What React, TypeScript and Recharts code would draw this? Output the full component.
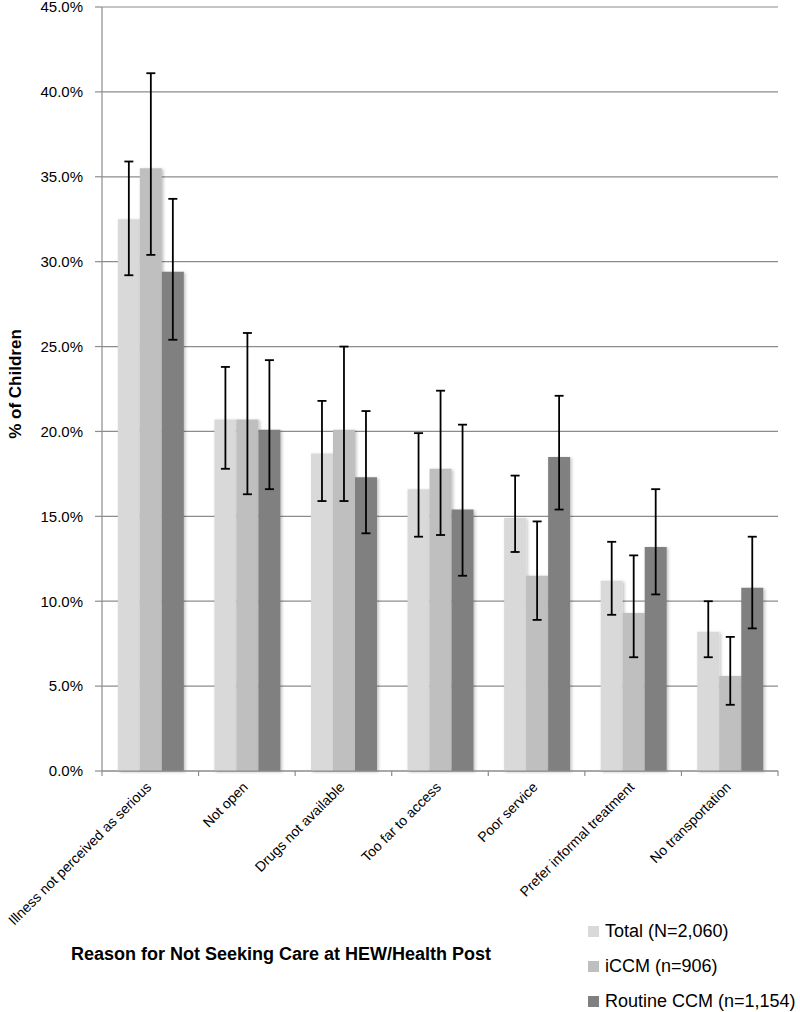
import { Bar, BarChart, CartesianGrid, ErrorBar, Label, Legend, XAxis, YAxis } from "recharts";

const reasons = [
  "Illness not perceived as serious",
  "Not open",
  "Drugs not available",
  "Too far to access",
  "Poor service",
  "Prefer informal treatment",
  "No transportation",
];

const seriesNames = ["Total (N=2,060)", "iCCM (n=906)", "Routine CCM (n=1,154)"];
const seriesColors = ["#d9d9d9", "#bfbfbf", "#808080"];

const total = [32.5, 20.7, 18.7, 16.6, 14.9, 11.2, 8.2];
const totalLow = [29.2, 17.8, 15.9, 13.8, 12.9, 9.2, 6.7];
const totalHigh = [35.9, 23.8, 21.8, 19.9, 17.4, 13.5, 10.0];

const iccm = [35.5, 20.7, 20.1, 17.8, 11.5, 9.3, 5.6];
const iccmLow = [30.4, 16.3, 15.9, 13.9, 8.9, 6.7, 3.9];
const iccmHigh = [41.1, 25.8, 25.0, 22.4, 14.7, 12.7, 7.9];

const routine = [29.4, 20.1, 17.3, 15.4, 18.5, 13.2, 10.8];
const routineLow = [25.4, 16.6, 14.0, 11.5, 15.4, 10.4, 8.4];
const routineHigh = [33.7, 24.2, 21.2, 20.4, 22.1, 16.6, 13.8];

const yTicks = [0, 5, 10, 15, 20, 25, 30, 35, 40, 45];

const data = reasons.map((reason, i) => ({
  reason,
  total: total[i],
  totalErr: [total[i] - totalLow[i], totalHigh[i] - total[i]],
  iccm: iccm[i],
  iccmErr: [iccm[i] - iccmLow[i], iccmHigh[i] - iccm[i]],
  routine: routine[i],
  routineErr: [routine[i] - routineLow[i], routineHigh[i] - routine[i]],
}));

const FONT = '"Liberation Sans", Arial, sans-serif';
const GRID = "#8c8c8c";

// label rotated 45deg plus the little tick marks Excel puts between categories
function ReasonTick({ x, y, payload, index }: any) {
  const half = payload?.offset ?? 0;
  const last = index === reasons.length - 1;
  return (
    <g>
      {half > 0 && <line x1={x - half} y1={y} x2={x - half} y2={y + 5} stroke={GRID} strokeWidth={1.2} />}
      {half > 0 && last && <line x1={x + half} y1={y} x2={x + half} y2={y + 5} stroke={GRID} strokeWidth={1.2} />}
      <g transform={`translate(${x + 2},${y + 17})`}>
        <text x={0} y={0} textAnchor="end" transform="rotate(-45)" fontFamily={FONT} fontSize={14} fill="#000">
          {payload.value}
        </text>
      </g>
    </g>
  );
}

function LegendBox() {
  return (
    <div style={{ fontFamily: FONT, fontSize: 18, color: "#000" }}>
      {seriesNames.map((name, i) => (
        <div key={name} style={{ display: "flex", alignItems: "center", height: 35, whiteSpace: "nowrap" }}>
          <span style={{ width: 11, height: 11, background: seriesColors[i], marginRight: 6, flex: "none" }} />
          <span>{name}</span>
        </div>
      ))}
    </div>
  );
}

export default function App() {
  return (
    <div style={{ position: "absolute", left: 0, top: 0, width: 800, height: 1012, background: "#fff", overflow: "hidden" }}>
      <BarChart
        width={800}
        height={1012}
        data={data}
        margin={{ top: 7, right: 22, left: 0, bottom: 0 }}
        barCategoryGap="16.4%"
        barGap={0}
      >
        <defs>
          <filter id="barShadow" x="-20%" y="-5%" width="140%" height="110%">
            <feDropShadow dx="1.5" dy="1" stdDeviation="1.5" floodColor="#000" floodOpacity="0.25" />
          </filter>
        </defs>
        <CartesianGrid vertical={false} stroke={GRID} strokeWidth={1.2} />
        <XAxis
          dataKey="reason"
          interval={0}
          axisLine={{ stroke: GRID, strokeWidth: 1.2 }}
          tickLine={false}
          tickSize={0}
          tickMargin={0}
          tick={<ReasonTick />}
          height={241}
        >
          <Label
            content={() => (
              <text x={281} y={960} textAnchor="middle" fontFamily={FONT} fontSize={18} fontWeight="bold" fill="#000">
                Reason for Not Seeking Care at HEW/Health Post
              </text>
            )}
          />
        </XAxis>
        <YAxis
          width={102}
          domain={[0, 45]}
          ticks={yTicks}
          interval={0}
          tickFormatter={(v: number) => `${v.toFixed(1)}%`}
          tick={{ fontFamily: FONT, fontSize: 15, fill: "#000" }}
          tickSize={7}
          tickMargin={12}
          tickLine={{ stroke: GRID, strokeWidth: 1.2 }}
          axisLine={{ stroke: GRID, strokeWidth: 1.2 }}
        >
          <Label
            content={() => (
              <text
                x={21}
                y={384}
                transform="rotate(-90 21 384)"
                textAnchor="middle"
                fontFamily={FONT}
                fontSize={17}
                fontWeight="bold"
                fill="#000"
              >
                % of Children
              </text>
            )}
          />
        </YAxis>
        <Legend
          layout="vertical"
          align="center"
          verticalAlign="middle"
          content={<LegendBox />}
          wrapperStyle={{ left: 588, top: 914, width: 212, right: "auto", bottom: "auto" }}
        />
        <Bar dataKey="total" name={seriesNames[0]} fill={seriesColors[0]} filter="url(#barShadow)" isAnimationActive={false}>
          <ErrorBar dataKey="totalErr" width={4.5} strokeWidth={1.8} stroke="#000" direction="y" />
        </Bar>
        <Bar dataKey="iccm" name={seriesNames[1]} fill={seriesColors[1]} filter="url(#barShadow)" isAnimationActive={false}>
          <ErrorBar dataKey="iccmErr" width={4.5} strokeWidth={1.8} stroke="#000" direction="y" />
        </Bar>
        <Bar dataKey="routine" name={seriesNames[2]} fill={seriesColors[2]} filter="url(#barShadow)" isAnimationActive={false}>
          <ErrorBar dataKey="routineErr" width={4.5} strokeWidth={1.8} stroke="#000" direction="y" />
        </Bar>
      </BarChart>
    </div>
  );
}
